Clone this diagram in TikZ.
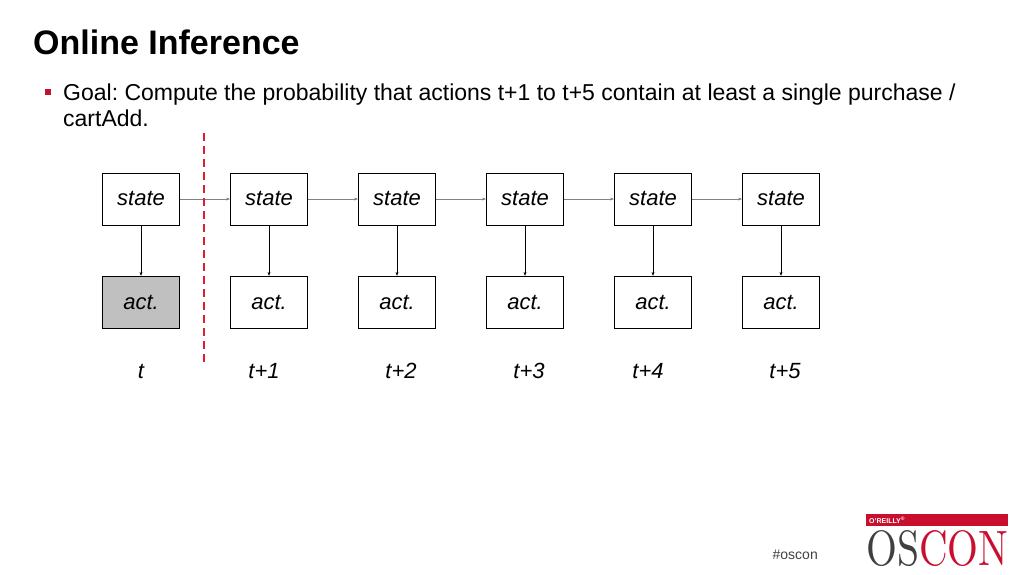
\documentclass[tikz,border=0pt]{standalone}
\usepackage{fontspec}
\setsansfont{Liberation Sans}
\renewcommand{\familydefault}{\sfdefault}
\frenchspacing
\usetikzlibrary{positioning,arrows.meta}
\definecolor{osconred}{RGB}{200,16,46}
\definecolor{splitred}{RGB}{222,30,50}
\definecolor{actgray}{RGB}{192,192,192}
\begin{document}
\begin{tikzpicture}[
		x=1pt, y=1pt,
		node distance=50.5pt and 50.2pt,
		statebox/.style={rectangle, draw=black, line width=0.8pt, minimum width=77pt, minimum height=52pt, inner sep=0pt, font=\fontsize{22}{26}\selectfont\itshape},
		actbox/.style={statebox},
		timelabel/.style={anchor=base, inner sep=0pt, font=\fontsize{22}{26}\selectfont\itshape},
		flow/.style={-{Stealth[length=4pt,width=3pt]}, line width=0.6pt, draw=gray},
		emit/.style={-{Stealth[length=4pt,width=3pt]}, line width=0.6pt}
		]
		\useasboundingbox (0,0) rectangle (1023,575);
		% title and bullet
		\node[anchor=base west, inner sep=0pt, font=\fontsize{34}{38}\selectfont\bfseries] (title) at (33,520) {Online Inference};
		\fill[osconred] (45,480) rectangle (51,486);
		\node[anchor=base west, inner sep=0pt, font=\fontsize{23}{26}\selectfont] (goal) at (63,474) {Goal: Compute the probability that actions t+1 to t+5 contain at least a single purchase /};
		\node[anchor=base west, inner sep=0pt, font=\fontsize{23}{26}\selectfont] (goal2) at ([yshift=-26pt]goal.base west) {cartAdd.};
		% states
		\node[statebox] (s0) at (141,376) {state};
		\node[statebox, right=of s0] (s1) {state};
		\node[statebox, right=of s1] (s2) {state};
		\node[statebox, right=of s2] (s3) {state};
		\node[statebox, right=of s3] (s4) {state};
		\node[statebox, right=of s4] (s5) {state};
		% actions
		\node[actbox, fill=actgray, below=of s0] (a0) {act.};
		\node[actbox, below=of s1] (a1) {act.};
		\node[actbox, below=of s2] (a2) {act.};
		\node[actbox, below=of s3] (a3) {act.};
		\node[actbox, below=of s4] (a4) {act.};
		\node[actbox, below=of s5] (a5) {act.};
		% time steps
		\node[timelabel] (t0) at (141,196) {t};
		\node[timelabel] (t1) at (264,196) {t+1};
		\node[timelabel] (t2) at (401,196) {t+2};
		\node[timelabel] (t3) at (529,196) {t+3};
		\node[timelabel] (t4) at (648,196) {t+4};
		\node[timelabel] (t5) at (785,196) {t+5};
		% connectors
		\draw[flow] (s0) -- (s1);
		\draw[flow] (s1) -- (s2);
		\draw[flow] (s2) -- (s3);
		\draw[flow] (s3) -- (s4);
		\draw[flow] (s4) -- (s5);
		\draw[emit] (s0) -- (a0);
		\draw[emit] (s1) -- (a1);
		\draw[emit] (s2) -- (a2);
		\draw[emit] (s3) -- (a3);
		\draw[emit] (s4) -- (a4);
		\draw[emit] (s5) -- (a5);
		% now line
		\coordinate (cutTop) at (204,442);
		\coordinate (cutBot) at (204,210);
		\draw[splitred, line width=2.5pt, dash pattern=on 8pt off 5pt] (cutTop) -- (cutBot);
		% footer
		\node[anchor=base east, inner sep=0pt, font=\fontsize{14}{16}\selectfont, text=darkgray] (tag) at (818,15) {\#oscon};
		\node[rectangle, fill=osconred, minimum width=142pt, minimum height=12pt, inner sep=0pt, anchor=north west] (bar) at (866,61) {};
		\node[anchor=west, inner sep=0pt, text=white, font=\fontsize{7}{8}\selectfont\bfseries] (brand) at ([xshift=3pt]bar.west) {O'REILLY\textsuperscript{\tiny\textregistered}};
		\node[anchor=north west, inner sep=0pt] (logo) at (866,45) {\resizebox{142pt}{35pt}{\rmfamily\color{darkgray}OS\color{osconred}CON}};
\end{tikzpicture}
\end{document}
